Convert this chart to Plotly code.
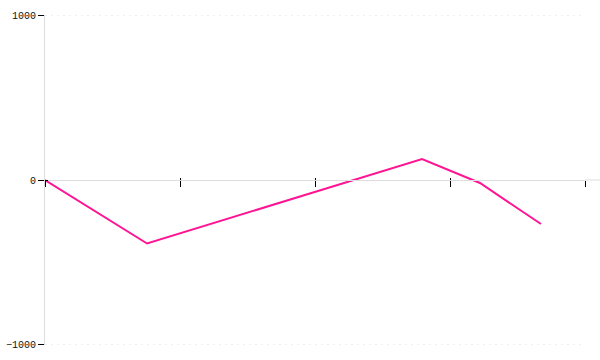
import plotly.graph_objects as go

# Data
x_vals = [0, 0.756, 2.793, 3.222, 3.674]
y_vals = [0, -385, 127, -18, -267]
x_ticks = [0, 1, 2, 3, 4]
y_ticks = [-1000, 0, 1000]

LINE = "#ff1493"
AXIS = "#dddddd"
GRID = "#e3e3e3"
FONT = dict(family="Liberation Mono", size=10, color="#111111")

fig = go.Figure()
fig.add_trace(go.Scatter(x=x_vals, y=y_vals, mode="lines",
                         line=dict(color=LINE, width=2), hoverinfo="skip",
                         showlegend=False))
# helper (invisible) trace for overlay axes carrying inner tick halves
fig.add_trace(go.Scatter(x=[x_vals[0]], y=[y_vals[0]], xaxis="x2", yaxis="y2",
                         mode="markers", marker=dict(opacity=0),
                         hoverinfo="skip", showlegend=False))

YR = [-1000.6, 1000.6]

# dotted gridlines (the zero line is the solid x axis itself)
grid_shapes = [dict(type="line", xref="paper", yref="y", x0=0, x1=1,
                    y0=v, y1=v, layer="below",
                    line=dict(color=GRID, width=1, dash="2px,4px"))
               for v in y_ticks if v != 0]

fig.update_layout(
    width=600, height=360,
    margin=dict(l=45, r=15, t=15, b=15),
    paper_bgcolor="white", plot_bgcolor="white",
    xaxis=dict(range=[0, 4], tickvals=x_ticks, showticklabels=False,
               anchor="free", position=0.5, side="bottom", automargin=False,
               showline=True, linecolor=AXIS, linewidth=1,
               ticks="outside", ticklen=6, tickwidth=1, tickcolor="black",
               showgrid=False, zeroline=False, fixedrange=True),
    xaxis2=dict(range=[0, 4], tickvals=x_ticks, showticklabels=False,
                overlaying="x", anchor="free", position=0.5, side="bottom",
                automargin=False,
                ticks="inside", ticklen=2, tickwidth=1, tickcolor="black",
                showline=False, showgrid=False, zeroline=False),
    yaxis=dict(range=YR, tickvals=y_ticks, automargin=False,
               tickfont=FONT, showline=True, linecolor=AXIS, linewidth=1,
               ticks="outside", ticklen=6, tickwidth=1, tickcolor="black",
               showgrid=False, zeroline=False, fixedrange=True),
    yaxis2=dict(range=YR, tickvals=y_ticks, showticklabels=False,
                overlaying="y", anchor="x", side="left", automargin=False,
                ticks="inside", ticklen=3, tickwidth=1, tickcolor="black",
                showline=False, showgrid=False, zeroline=False),
    shapes=grid_shapes + [dict(type="line", xref="paper", yref="y",
                               x0=1, x1=1 + 15 / 540, y0=0, y1=0,
                               line=dict(color=AXIS, width=1))],
)

fig.write_html("out.html")
